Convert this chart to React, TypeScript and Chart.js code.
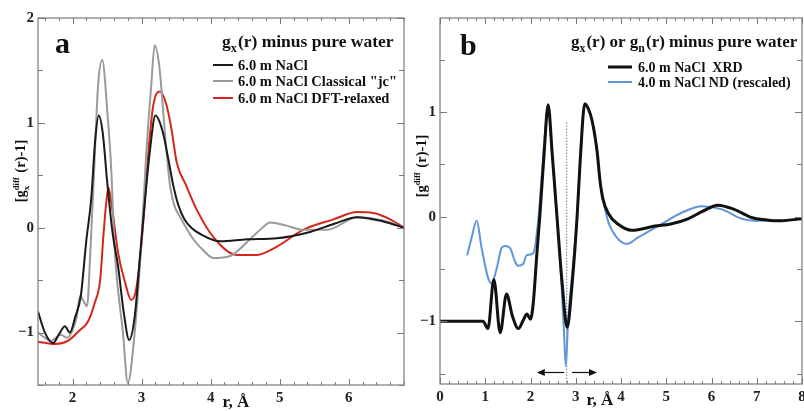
import React, { useEffect, useRef } from "react";
import { Chart, registerables } from "chart.js";

Chart.register(...registerables);

const FONT = '"Liberation Serif", "Times New Roman", serif';

// ---------------- Panel a data ----------------
const A_X_TICKS = [2, 3, 4, 5, 6];
const A_Y_TICKS = [-1, 0, 1, 2];

const A_BLACK_R = [1.5, 1.6, 1.72, 1.8, 1.89, 1.96, 2.04, 2.12, 2.2, 2.27, 2.33, 2.38, 2.44, 2.5, 2.58, 2.66, 2.74, 2.82, 2.9, 2.98, 3.05, 3.12, 3.2, 3.3, 3.38, 3.46, 3.53, 3.62, 3.72, 3.85, 4.14, 4.53, 4.96, 5.44, 5.8, 6.12, 6.5, 6.8];
const A_BLACK_Y = [-0.8, -1.0, -1.1, -1.02, -0.94, -1.0, -0.85, -0.65, -0.12, 0.27, 0.85, 1.07, 0.89, 0.45, -0.05, -0.37, -0.8, -1.07, -0.85, -0.25, 0.27, 0.73, 1.07, 0.93, 0.68, 0.4, 0.22, 0.08, 0.0, -0.06, -0.13, -0.11, -0.1, -0.04, 0.04, 0.1, 0.06, 0.0];

const A_GRAY_R = [1.5, 1.58, 1.69, 1.76, 1.83, 1.92, 2.0, 2.06, 2.11, 2.16, 2.21, 2.26, 2.31, 2.37, 2.43, 2.51, 2.56, 2.61, 2.73, 2.8, 2.9, 2.99, 3.07, 3.14, 3.19, 3.26, 3.34, 3.41, 3.47, 3.56, 3.75, 3.9, 4.04, 4.28, 4.57, 4.75, 4.86, 5.1, 5.34, 5.69, 6.12, 6.5, 6.8];
const A_GRAY_Y = [-1.0, -1.04, -1.08, -1.05, -1.02, -1.05, -0.98, -0.85, -0.65, -0.7, -0.75, -0.2, 0.5, 1.36, 1.6, 1.05, 0.57, -0.21, -1.0, -1.48, -1.0, -0.21, 0.73, 1.36, 1.74, 1.52, 0.89, 0.41, 0.22, 0.1, -0.11, -0.22, -0.29, -0.27, -0.11, 0.0, 0.05, 0.02, -0.02, -0.02, 0.1, 0.07, 0.0];

const A_RED_R = [1.5, 1.62, 1.75, 1.93, 2.1, 2.22, 2.32, 2.4, 2.45, 2.49, 2.52, 2.56, 2.66, 2.76, 2.85, 2.92, 2.99, 3.05, 3.1, 3.17, 3.27, 3.36, 3.43, 3.51, 3.64, 3.8, 4.04, 4.38, 4.67, 4.96, 5.34, 5.78, 6.12, 6.36, 6.6, 6.8];
const A_RED_Y = [-1.09, -1.1, -1.11, -1.08, -0.98, -0.9, -0.72, -0.5, -0.05, 0.25, 0.38, 0.25, -0.24, -0.52, -0.69, -0.59, -0.21, 0.27, 0.73, 1.17, 1.3, 1.17, 0.95, 0.62, 0.41, 0.17, -0.09, -0.26, -0.26, -0.18, -0.02, 0.08, 0.15, 0.14, 0.08, 0.0];

// ---------------- Panel b data ----------------
const B_X_TICKS = [0, 1, 2, 3, 4, 5, 6, 7, 8];
const B_Y_TICKS = [-1, 0, 1];

const B_XRD_R = [0, 0.95, 1.06, 1.19, 1.33, 1.47, 1.6, 1.73, 1.85, 1.92, 2.0, 2.06, 2.14, 2.21, 2.3, 2.39, 2.48, 2.58, 2.7, 2.81, 2.92, 3.03, 3.1, 3.2, 3.28, 3.36, 3.47, 3.54, 3.6, 3.72, 3.93, 4.24, 4.75, 5.1, 5.48, 5.8, 6.14, 6.5, 6.9, 7.2, 7.47, 8];
const B_XRD_Y = [-1, -1, -1.07, -0.6, -1.11, -0.74, -0.95, -1.07, -0.98, -0.93, -0.98, -0.83, -0.36, 0.03, 0.6, 1.07, 0.6, 0.03, -0.64, -1.06, -0.64, 0.0, 0.55, 1.08, 1.03, 0.92, 0.63, 0.33, 0.17, 0.03, -0.07, -0.13, -0.09, -0.07, -0.02, 0.05, 0.11, 0.07, -0.01, -0.03, -0.04, -0.02];

const B_ND_R = [0.6, 0.7, 0.81, 0.92, 1.06, 1.14, 1.25, 1.36, 1.43, 1.55, 1.65, 1.72, 1.84, 1.91, 2.06, 2.17, 2.25, 2.32, 2.39, 2.46, 2.58, 2.68, 2.74, 2.78, 2.83, 2.92, 3.03, 3.1, 3.2, 3.28, 3.36, 3.47, 3.54, 3.6, 3.72, 3.8, 3.95, 4.13, 4.37, 4.82, 5.35, 5.79, 6.23, 6.67, 6.96, 7.4, 8];
const B_ND_Y = [-0.37, -0.2, -0.04, -0.3, -0.58, -0.64, -0.5, -0.3, -0.28, -0.3, -0.42, -0.47, -0.45, -0.37, -0.35, -0.04, 0.4, 0.8, 1.05, 0.7, 0.03, -0.6, -1.1, -1.43, -1.0, -0.55, 0.0, 0.55, 1.07, 1.03, 0.92, 0.63, 0.33, 0.17, -0.05, -0.13, -0.22, -0.26, -0.2, -0.09, 0.04, 0.1, 0.07, -0.02, -0.04, -0.04, -0.02];

const B_MARK_R = [2.8, 2.8];
const B_MARK_Y = [0.9, -1.6];
const B_ARROW_Y = -1.49;
const B_ARROW_LEFT = [2.74, 2.14];
const B_ARROW_RIGHT = [2.92, 3.47];

// ---------------- helpers ----------------
function pts(xs: number[], ys: number[]) {
  return xs.map((x, i) => ({ x, y: ys[i] }));
}

type Run = { t?: string; sub?: string; sup?: string };

function runsWidth(ctx: CanvasRenderingContext2D, runs: Run[], size: number, small: number) {
  let w = 0;
  for (const r of runs) {
    if (r.t !== undefined) {
      ctx.font = `bold ${size}px ${FONT}`;
      w += ctx.measureText(r.t).width;
    } else {
      ctx.font = `bold ${size * small}px ${FONT}`;
      const a = r.sub ? ctx.measureText(r.sub).width : 0;
      const b = r.sup ? ctx.measureText(r.sup).width : 0;
      w += Math.max(a, b) + 1;
    }
  }
  return w;
}

function drawRuns(ctx: CanvasRenderingContext2D, x: number, y: number, runs: Run[], size: number, align: "left" | "center", small = 0.65) {
  const total = runsWidth(ctx, runs, size, small);
  let cx = align === "center" ? x - total / 2 : x;
  ctx.textAlign = "left";
  ctx.textBaseline = "alphabetic";
  for (const r of runs) {
    if (r.t !== undefined) {
      ctx.font = `bold ${size}px ${FONT}`;
      ctx.fillText(r.t, cx, y);
      cx += ctx.measureText(r.t).width;
    } else {
      ctx.font = `bold ${size * small}px ${FONT}`;
      const a = r.sub ? ctx.measureText(r.sub).width : 0;
      const b = r.sup ? ctx.measureText(r.sup).width : 0;
      if (r.sub) ctx.fillText(r.sub, cx, y + size * 0.28);
      if (r.sup) ctx.fillText(r.sup, cx, y - size * 0.45);
      cx += Math.max(a, b) + 1;
    }
  }
}

function drawFrameTicks(chart: any, xStep: number, yStep: number) {
  const { ctx, chartArea, scales } = chart;
  const { left, right, top, bottom } = chartArea;
  const xs = scales.x;
  const ys = scales.y;
  ctx.save();
  ctx.strokeStyle = "#7a7a7a";
  ctx.lineWidth = 1.2;
  ctx.strokeRect(left, top, right - left, bottom - top);
  ctx.lineWidth = 1;
  ctx.beginPath();
  const k0 = Math.ceil(xs.min / xStep - 1e-6);
  const k1 = Math.floor(xs.max / xStep + 1e-6);
  for (let k = k0; k <= k1; k++) {
    const v = k * xStep;
    const major = Math.abs(v - Math.round(v)) < 1e-6;
    const len = major ? 6 : 3;
    const px = Math.round(xs.getPixelForValue(v)) + 0.5;
    ctx.moveTo(px, bottom);
    ctx.lineTo(px, bottom - len);
    ctx.moveTo(px, top);
    ctx.lineTo(px, top + len);
  }
  const j0 = Math.ceil(ys.min / yStep - 1e-6);
  const j1 = Math.floor(ys.max / yStep + 1e-6);
  for (let j = j0; j <= j1; j++) {
    const v = j * yStep;
    const major = Math.abs(v - Math.round(v)) < 1e-6;
    const len = major ? 7 : 5;
    const py = Math.round(ys.getPixelForValue(v)) + 0.5;
    ctx.moveTo(left, py);
    ctx.lineTo(left + len, py);
    ctx.moveTo(right, py);
    ctx.lineTo(right - len, py);
  }
  ctx.stroke();
  ctx.restore();
}

function drawLegend(chart: any, x0: number, x1: number, tx: number, ys: number[], size: number, indices: number[]) {
  const ctx = chart.ctx;
  indices.forEach((di, i) => {
    const ds = chart.data.datasets[di];
    ctx.save();
    ctx.strokeStyle = ds.borderColor;
    ctx.lineWidth = ds.borderWidth;
    ctx.beginPath();
    ctx.moveTo(x0, ys[i]);
    ctx.lineTo(x1, ys[i]);
    ctx.stroke();
    ctx.fillStyle = "#111";
    drawRuns(ctx, tx, ys[i] + size * 0.33, [{ t: ds.label }], size, "left");
    ctx.restore();
  });
}

function drawYTitle(ctx: CanvasRenderingContext2D, cx: number, cy: number, runs: Run[], size: number) {
  ctx.save();
  ctx.translate(cx, cy);
  ctx.rotate(-Math.PI / 2);
  ctx.fillStyle = "#111";
  drawRuns(ctx, 0, size * 0.3, runs, size, "center", 0.6);
  ctx.restore();
}

function fmt(v: number) {
  return v < 0 ? "\u2212" + Math.abs(v) : String(v);
}

function makeScales(xmin: number, xmax: number, ymin: number, ymax: number, xt: number[], yt: number[], yWidth: number, xHeight: number) {
  const tickFont = { family: FONT, size: 15, weight: "bold" as const };
  return {
    x: {
      type: "linear" as const,
      min: xmin,
      max: xmax,
      afterBuildTicks: (s: any) => {
        s.ticks = xt.map((v) => ({ value: v }));
      },
      afterFit: (s: any) => {
        s.height = xHeight;
        s.paddingLeft = 0;
        s.paddingRight = 0;
      },
      grid: { display: false, drawTicks: false },
      border: { display: false },
      ticks: { font: tickFont, color: "#222", padding: 4, maxRotation: 0, autoSkip: false, callback: (v: any) => fmt(Number(v)) },
    },
    y: {
      type: "linear" as const,
      min: ymin,
      max: ymax,
      afterBuildTicks: (s: any) => {
        s.ticks = yt.map((v) => ({ value: v }));
      },
      afterFit: (s: any) => {
        s.width = yWidth;
        s.paddingTop = 0;
        s.paddingBottom = 0;
      },
      grid: { display: false, drawTicks: false },
      border: { display: false },
      ticks: { font: tickFont, color: "#222", padding: 4, autoSkip: false, callback: (v: any) => fmt(Number(v)) },
    },
  };
}

const lineBase = {
  pointRadius: 0,
  fill: false,
  cubicInterpolationMode: "monotone" as const,
};

function configA(): any {
  const decor = {
    id: "decorA",
    afterDraw(chart: any) {
      const ctx = chart.ctx as CanvasRenderingContext2D;
      drawFrameTicks(chart, 0.2, 0.5);
      ctx.save();
      ctx.fillStyle = "#111";
      ctx.font = `bold 30px ${FONT}`;
      ctx.textAlign = "left";
      ctx.fillText("a", 55, 53);
      drawRuns(ctx, 222, 47, [{ t: "g" }, { sub: "x" }, { t: "(r) minus pure water" }], 17.5, "left", 0.7);
      drawLegend(chart, 213, 233, 238, [65, 81, 98], 14.5, [0, 1, 2]);
      ctx.fillStyle = "#111";
      drawRuns(ctx, 236, 407, [{ t: "r, \u00c5" }], 17, "center");
      drawYTitle(ctx, 21, 171, [{ t: "[g" }, { sub: "x", sup: "diff" }, { t: " (r)-1]" }], 14.5);
      ctx.restore();
    },
  };
  return {
    type: "line",
    data: {
      datasets: [
        { ...lineBase, label: "6.0 m NaCl", data: pts(A_BLACK_R, A_BLACK_Y), borderColor: "#1a1a1a", borderWidth: 2 },
        { ...lineBase, label: "6.0 m NaCl Classical \"jc\"", data: pts(A_GRAY_R, A_GRAY_Y), borderColor: "#9a9a9a", borderWidth: 2 },
        { ...lineBase, label: "6.0 m NaCl DFT-relaxed", data: pts(A_RED_R, A_RED_Y), borderColor: "#d4271c", borderWidth: 2 },
      ],
    },
    options: {
      animation: false,
      responsive: false,
      maintainAspectRatio: false,
      layout: { padding: { left: 0, right: 1, top: 18, bottom: 0 } },
      plugins: { legend: { display: false }, tooltip: { enabled: false } },
      scales: makeScales(1.5, 6.8, -1.5, 2, A_X_TICKS, A_Y_TICKS, 38, 26),
    },
    plugins: [decor],
  };
}

function configB(): any {
  const decor = {
    id: "decorB",
    afterDraw(chart: any) {
      const ctx = chart.ctx as CanvasRenderingContext2D;
      const xs = chart.scales.x;
      const ys = chart.scales.y;
      drawFrameTicks(chart, 0.2, 0.5);
      ctx.save();
      ctx.strokeStyle = "#111";
      ctx.fillStyle = "#111";
      ctx.lineWidth = 1.2;
      const ay = ys.getPixelForValue(B_ARROW_Y);
      for (const [a, b] of [B_ARROW_LEFT, B_ARROW_RIGHT]) {
        const pa = xs.getPixelForValue(a);
        const pb = xs.getPixelForValue(b);
        const dir = Math.sign(pb - pa);
        ctx.beginPath();
        ctx.moveTo(pa, ay);
        ctx.lineTo(pb - dir * 6, ay);
        ctx.stroke();
        ctx.beginPath();
        ctx.moveTo(pb, ay);
        ctx.lineTo(pb - dir * 8, ay - 3.5);
        ctx.lineTo(pb - dir * 8, ay + 3.5);
        ctx.closePath();
        ctx.fill();
      }
      ctx.font = `bold 30px ${FONT}`;
      ctx.textAlign = "left";
      ctx.fillText("b", 55, 55);
      drawRuns(ctx, 166, 47, [{ t: "g" }, { sub: "x" }, { t: "(r) or g" }, { sub: "n" }, { t: "(r) minus pure water" }], 17, "left", 0.7);
      drawLegend(chart, 203, 227, 233, [67, 82], 14, [0, 1]);
      ctx.fillStyle = "#111";
      drawRuns(ctx, 195, 405, [{ t: "r, \u00c5" }], 17, "center");
      drawYTitle(ctx, 17, 166, [{ t: "[g" }, { sup: "diff" }, { t: " (r)-1]" }], 14.5);
      ctx.restore();
    },
  };
  return {
    type: "line",
    data: {
      datasets: [
        { ...lineBase, label: "6.0 m NaCl  XRD", data: pts(B_XRD_R, B_XRD_Y), borderColor: "#111111", borderWidth: 3 },
        { ...lineBase, label: "4.0 m NaCl ND (rescaled)", data: pts(B_ND_R, B_ND_Y), borderColor: "#5f95db", borderWidth: 2 },
        { ...lineBase, label: "", data: pts(B_MARK_R, B_MARK_Y), borderColor: "#777777", borderWidth: 1, borderDash: [1.5, 1.5], cubicInterpolationMode: "default", tension: 0 },
      ],
    },
    options: {
      animation: false,
      responsive: false,
      maintainAspectRatio: false,
      layout: { padding: { left: 0, right: 2, top: 18, bottom: 0 } },
      plugins: { legend: { display: false }, tooltip: { enabled: false } },
      scales: makeScales(0, 8, -1.6, 1.9, B_X_TICKS, B_Y_TICKS, 35, 27),
    },
    plugins: [decor],
  };
}

function Panel({ left, width, make }: { left: number; width: number; make: () => any }) {
  const ref = useRef<HTMLCanvasElement>(null);
  useEffect(() => {
    const chart = new Chart(ref.current as HTMLCanvasElement, make());
    return () => chart.destroy();
  }, []);
  return (
    <canvas
      ref={ref}
      width={width}
      height={411}
      style={{ position: "absolute", left, top: 0, width, height: 411, display: "block" }}
    />
  );
}

export default function App() {
  return (
    <div style={{ position: "absolute", left: 0, top: 0, width: 804, height: 411, background: "#fff", overflow: "hidden" }}>
      <Panel left={0} width={405} make={configA} />
      <Panel left={405} width={399} make={configB} />
    </div>
  );
}
